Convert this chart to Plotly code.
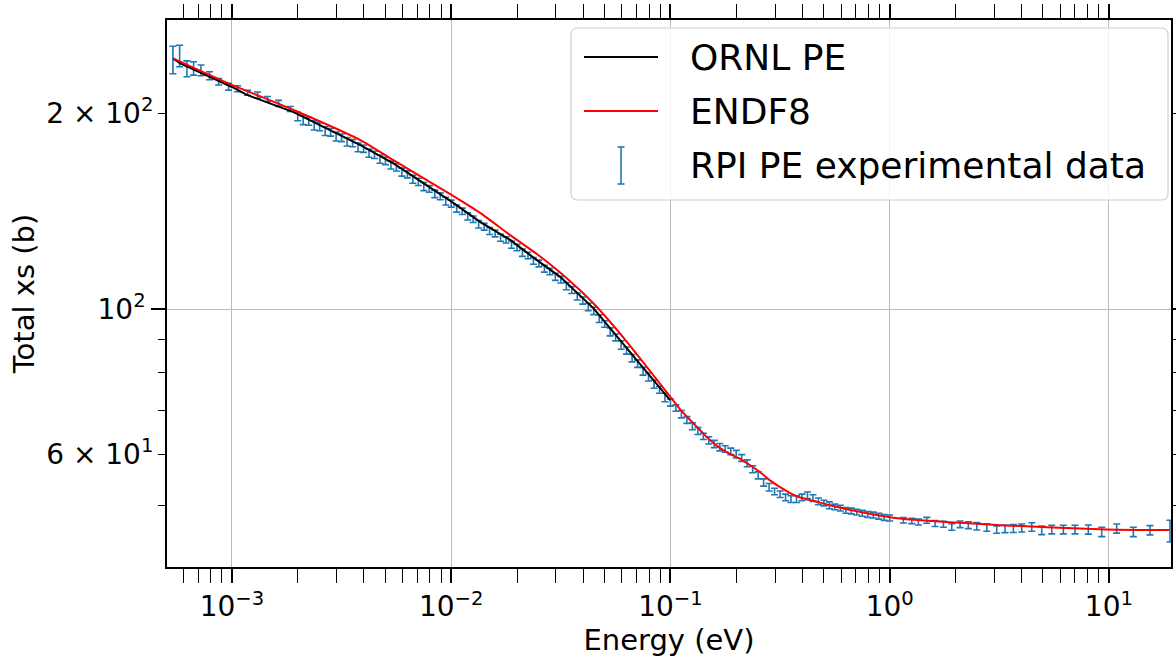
import plotly.graph_objects as go

# ---------------- data ----------------
# RPI PE experimental data: energy (eV), total xs (b), 1-sigma error (b)
E_lo = [5.38e-4, 5.77e-4, 6.23e-4, 6.68e-4, 7.22e-4, 7.90e-4, 8.69e-4, 9.65e-4,
        1.060e-3, 1.178e-3, 1.308e-3, 1.453e-3, 1.631e-3, 1.845e-3]
xs_lo = [241.5, 244.8, 233.9, 234.2, 232.6, 228.2, 223.4, 219.5,
         217.9, 214.9, 213.1, 210.2, 207.0, 202.9]
err_lo = [11.7, 9.3, 6.6, 5.5, 4.4, 3.2, 2.6, 2.6, 2.3, 1.9, 2.3, 1.9, 2.2, 1.8]

E_dense = [0.001995, 0.002113, 0.002239, 0.002371, 0.002512, 0.002661, 0.002818, 0.002985,
           0.003162, 0.003350, 0.003548, 0.003758, 0.003981, 0.004217, 0.004467, 0.004732,
           0.005012, 0.005309, 0.005623, 0.005957, 0.006310, 0.006683, 0.007079, 0.007499,
           0.007943, 0.008414, 0.008913, 0.009441, 0.01000, 0.01059, 0.01122, 0.01189,
           0.01259, 0.01334, 0.01413, 0.01496, 0.01585, 0.01679, 0.01778, 0.01884,
           0.01995, 0.02113, 0.02239, 0.02371, 0.02512, 0.02661, 0.02818, 0.02985,
           0.03162, 0.03350, 0.03548, 0.03758, 0.03981, 0.04217, 0.04467, 0.04732,
           0.05012, 0.05309, 0.05623, 0.05957, 0.06310, 0.06683, 0.07079, 0.07499,
           0.07943, 0.08414, 0.08913, 0.09441, 0.1000]
xs_dense = [197.6, 195.2, 194.3, 191.5, 190.6, 187.7, 186.9, 184.1, 183.3, 180.8,
            179.9, 177.2, 176.4, 173.6, 172.6, 170.0, 168.9, 166.5, 165.2, 162.4,
            161.1, 158.3, 156.9, 154.3, 153.0, 150.4, 149.1, 146.6, 145.3, 142.8,
            141.4, 138.9, 137.5, 135.1, 133.9, 131.9, 130.8, 128.8, 127.8, 125.7,
            124.4, 122.2, 121.0, 118.7, 117.6, 115.5, 114.3, 112.2, 111.1, 108.6,
            107.1, 104.7, 103.2, 100.9, 99.5, 96.8, 95.0, 92.4, 90.6, 88.2,
            86.5, 84.2, 82.6, 80.4, 78.8, 76.8, 75.3, 73.3, 72.0]
err_dense = [2.9, 3.2, 2.7, 3.1, 2.7, 2.9, 2.5, 2.9, 2.5, 2.7,
             2.3, 2.7, 2.3, 2.5, 2.2, 2.5, 2.2, 2.3, 2.2, 2.3,
             2.0, 2.2, 2.0, 2.2, 1.8, 2.0, 1.8, 2.0, 1.8, 1.8,
             1.6, 1.8, 1.6, 1.8, 1.6, 1.6, 1.6, 1.6, 1.4, 1.6,
             1.4, 1.6, 1.4, 1.4, 1.4, 1.4, 1.3, 1.4, 1.3, 1.4,
             1.3, 1.3, 1.3, 1.3, 1.3, 1.3, 1.1, 1.3, 1.1, 1.3,
             1.1, 1.1, 1.1, 1.1, 1.1, 1.1, 0.9, 1.1, 0.9]

E_mid = [0.1059, 0.1122, 0.1189, 0.1259, 0.1334, 0.1413, 0.1496, 0.1585, 0.1679, 0.1778,
         0.1884, 0.1995, 0.2113, 0.2239, 0.2371, 0.2512, 0.2661, 0.2818, 0.2985, 0.3162,
         0.3350, 0.3548, 0.3758, 0.3981, 0.4217, 0.4467, 0.4732, 0.5012, 0.5309, 0.5623,
         0.5957, 0.6310, 0.6683, 0.7079, 0.7499, 0.7943, 0.8414, 0.8913, 0.9441, 1.000]
xs_mid = [70.6, 69.1, 67.7, 66.2, 65.1, 63.9, 63.0, 62.2, 61.5, 61.1,
          60.6, 60.0, 59.2, 58.1, 56.9, 55.7, 54.3, 53.4, 52.6, 52.1,
          51.5, 51.2, 51.2, 51.5, 51.9, 51.4, 50.8, 50.5, 50.1, 49.8,
          49.6, 49.2, 49.1, 48.9, 48.7, 48.5, 48.4, 48.2, 48.0, 47.9]
err_mid = [0.8, 0.9, 0.8, 0.8, 0.8, 0.7, 0.8, 0.8, 0.8, 0.7,
           0.7, 0.8, 0.7, 0.7, 0.7, 0.7, 0.7, 0.7, 0.6, 0.6,
           0.6, 0.6, 0.6, 0.6, 0.6, 0.6, 0.6, 0.5, 0.6, 0.5,
           0.5, 0.5, 0.5, 0.5, 0.5, 0.5, 0.5, 0.5, 0.5, 0.5]

E_hi = [1.155, 1.261, 1.352, 1.476, 1.611, 1.758, 1.920, 2.094, 2.285, 2.496,
        2.772, 3.078, 3.359, 3.666, 4.004, 4.446, 4.938, 5.486, 6.196, 7.005,
        8.055, 9.273, 10.85, 12.92, 15.39, 18.99]
xs_hi = [47.51, 47.40, 47.23, 47.51, 46.97, 46.85, 46.41, 46.85, 46.69, 46.52,
         46.31, 45.99, 46.08, 46.15, 46.24, 46.41, 45.87, 45.99, 45.99, 45.99,
         45.99, 45.60, 46.15, 45.60, 45.87, 45.76]
err_hi = [0.45, 0.45, 0.5, 0.5, 0.5, 0.5, 0.55, 0.55, 0.55, 0.6,
          0.6, 0.6, 0.6, 0.65, 0.65, 0.7, 0.7, 0.7, 0.7, 0.7,
          0.75, 0.75, 0.75, 0.75, 0.75, 1.75]

# ORNL PE evaluation
E_ornl = [5.38e-4, 5.81e-4, 1.0e-3, 1.17e-3, 1.91e-3, 3.85e-3, 5.45e-3, 1.007e-2,
          1.355e-2, 1.857e-2, 2.46e-2, 3.14e-2, 4.46e-2, 6.33e-2, 0.0997]
xs_ornl = [242.6, 238.4, 219.3, 213.2, 200.7, 178.6, 167.5, 146.2,
           136.2, 127.8, 119.0, 112.2, 100.4, 87.1, 72.6]

# ENDF8 evaluation
E_endf = [5.38e-4, 1.0e-3, 1.91e-3, 3.85e-3, 5.45e-3, 1.007e-2, 1.355e-2, 1.857e-2,
          2.46e-2, 3.14e-2, 4.46e-2, 6.33e-2, 0.0997, 0.1107, 0.1230, 0.1366,
          0.1517, 0.1685, 0.1872, 0.2078, 0.2309, 0.2564, 0.2848, 0.3164,
          0.3514, 0.3903, 0.4567, 0.5348, 0.786, 1.115, 3.19, 9.77, 18.9]
xs_endf = [242.6, 220.9, 202.2, 181.8, 169.4, 149.7, 140.6, 130.0,
           121.6, 113.9, 102.1, 89.2, 73.5, 70.3, 67.7, 65.3,
           63.0, 61.3, 60.0, 59.0, 57.7, 56.3, 54.7, 53.4,
           52.3, 51.5, 50.8, 50.1, 48.7, 47.8, 46.7, 46.0, 45.9]

x_tickvals = [1e-3, 1e-2, 1e-1, 1, 10]
x_ticktext = ["10<sup>\u22123</sup>", "10<sup>\u22122</sup>", "10<sup>\u22121</sup>",
              "10<sup>0</sup>", "10<sup>1</sup>"]
y_major_vals = [100]
y_major_text = ["10<sup>2</sup>"]
y_minor_lab_vals = [60, 200]
y_minor_lab_text = ["6 \u00d7 10<sup>1</sup>", "2 \u00d7 10<sup>2</sup>"]

# ---------------- figure ----------------
FONT = "DejaVu Sans"
W, H = 1176, 657
ML, MR, MT, MB = 167, 5, 20, 90
PW, PH = W - ML - MR, H - MT - MB

E_data = E_lo + E_dense + E_mid + E_hi
xs_data = xs_lo + xs_dense + xs_mid + xs_hi
err_data = err_lo + err_dense + err_mid + err_hi

fig = go.Figure()
fig.add_trace(go.Scatter(
    x=E_data, y=xs_data, mode="markers",
    marker=dict(size=1, color="rgba(0,0,0,0)"),
    error_y=dict(type="data", array=err_data, visible=True,
                 color="#1f77b4", thickness=1.6, width=3.5),
    showlegend=False, name="RPI PE experimental data"))
fig.add_trace(go.Scatter(x=E_ornl, y=xs_ornl, mode="lines",
                         line=dict(color="black", width=2),
                         showlegend=False, name="ORNL PE"))
fig.add_trace(go.Scatter(x=E_endf, y=xs_endf, mode="lines",
                         line=dict(color="red", width=2, shape="spline", smoothing=0.6),
                         showlegend=False, name="ENDF8"))
# carrier trace for the extra labelled minor ticks on y
fig.add_trace(go.Scatter(x=[None], y=[None], yaxis="y2", showlegend=False,
                         hoverinfo="skip"))

x_minor = []
for dec in [1e-4, 1e-3, 1e-2, 1e-1, 1, 10]:
    for m in range(2, 10):
        x_minor.append(m * dec)
y_minor = [50, 60, 70, 80, 90, 200]

xr = [-3.2964, 1.2832]
yr = [1.6052, 2.4437]

fig.update_layout(
    width=W, height=H,
    margin=dict(l=ML, r=MR, t=MT, b=MB),
    paper_bgcolor="white", plot_bgcolor="white",
    font=dict(family=FONT, color="black"),
    xaxis=dict(
        type="log", range=xr, showline=True, linecolor="black", linewidth=1.6,
        mirror="allticks", ticks="outside", ticklen=14, tickwidth=1.6, tickcolor="black",
        tickvals=x_tickvals, ticktext=x_ticktext, tickfont=dict(size=28, family=FONT),
        showgrid=True, gridcolor="#bcbcbc", gridwidth=1.3, zeroline=False,
        minor=dict(ticks="outside", ticklen=7, tickwidth=1.2, tickcolor="black",
                   tickvals=x_minor, showgrid=False),
        title=dict(text="Energy (eV)", font=dict(size=29, family=FONT), standoff=5),
        automargin=False,
    ),
    yaxis=dict(
        type="log", range=yr, showline=True, linecolor="black", linewidth=1.6,
        mirror="allticks", ticks="outside", ticklen=14, tickwidth=1.6, tickcolor="black",
        tickvals=y_major_vals, ticktext=y_major_text, tickfont=dict(size=28, family=FONT),
        showgrid=True, gridcolor="#bcbcbc", gridwidth=1.3, zeroline=False,
        minor=dict(ticks="outside", ticklen=7, tickwidth=1.2, tickcolor="black",
                   tickvals=y_minor, showgrid=False),
        title=dict(text="Total xs (b)", font=dict(size=29, family=FONT), standoff=54),
        automargin=False,
    ),
    yaxis2=dict(
        type="log", range=yr, overlaying="y", side="left", showline=False,
        ticks="outside", ticklen=7, tickwidth=1.2, tickcolor="black",
        tickvals=y_minor_lab_vals, ticktext=y_minor_lab_text,
        tickfont=dict(size=28, family=FONT), showgrid=False, zeroline=False,
        automargin=False,
    ),
)

# ---------------- legend (drawn in paper coordinates) ----------------
def px(xp):
    return (xp - ML) / PW

def py(yp):
    return (H - MB - yp) / PH

lx0, lx1, ly0, ly1, rr = 571, 1168, 28, 200, 7
path = (f"M {px(lx0 + rr)} {py(ly0)} L {px(lx1 - rr)} {py(ly0)} "
        f"Q {px(lx1)} {py(ly0)} {px(lx1)} {py(ly0 + rr)} "
        f"L {px(lx1)} {py(ly1 - rr)} Q {px(lx1)} {py(ly1)} {px(lx1 - rr)} {py(ly1)} "
        f"L {px(lx0 + rr)} {py(ly1)} Q {px(lx0)} {py(ly1)} {px(lx0)} {py(ly1 - rr)} "
        f"L {px(lx0)} {py(ly0 + rr)} Q {px(lx0)} {py(ly0)} {px(lx0 + rr)} {py(ly0)} Z")
shapes = [dict(type="path", path=path, xref="paper", yref="paper",
               fillcolor="rgba(255,255,255,0.8)", line=dict(color="#d0d0d0", width=1.2))]
shapes.append(dict(type="line", xref="paper", yref="paper",
                   x0=px(584), x1=px(658), y0=py(57), y1=py(57),
                   line=dict(color="black", width=2)))
shapes.append(dict(type="line", xref="paper", yref="paper",
                   x0=px(584), x1=px(658), y0=py(111), y1=py(111),
                   line=dict(color="red", width=2)))
ex = 621
shapes.append(dict(type="line", xref="paper", yref="paper",
                   x0=px(ex), x1=px(ex), y0=py(147), y1=py(184),
                   line=dict(color="#1f77b4", width=1.6)))
for yy in (147, 184):
    shapes.append(dict(type="line", xref="paper", yref="paper",
                       x0=px(ex - 3.5), x1=px(ex + 3.5), y0=py(yy), y1=py(yy),
                       line=dict(color="#1f77b4", width=1.6)))
fig.update_layout(shapes=shapes)

labels = ["ORNL PE", "ENDF8", "RPI PE experimental data"]
label_y = [57, 111, 165]
for t, yy in zip(labels, label_y):
    fig.add_annotation(text=t, xref="paper", yref="paper", x=px(688), y=py(yy),
                       xanchor="left", yanchor="middle", showarrow=False,
                       font=dict(size=36, family=FONT, color="black"))

fig.write_html("out.html")
